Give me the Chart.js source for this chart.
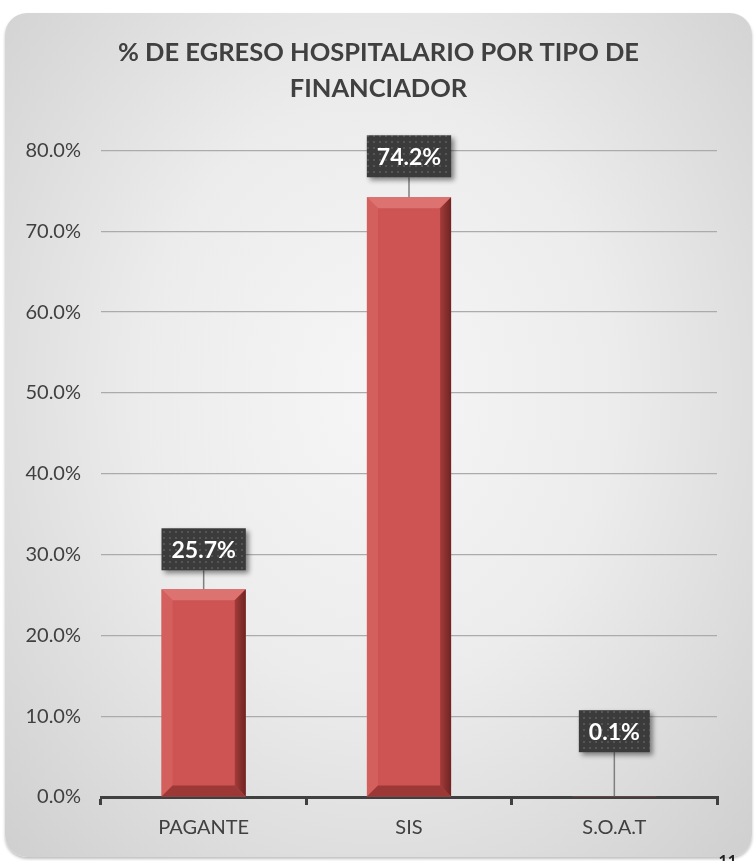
<!DOCTYPE html>
<html>
<head>
<meta charset="utf-8">
<script src="https://cdn.jsdelivr.net/npm/chart.js@4.4.1/dist/chart.umd.min.js"></script>
<style>
  html, body { margin: 0; padding: 0; background: #fff; }
  body { width: 755px; height: 861px; position: relative; overflow: hidden; font-family: Lato, "Open Sans", sans-serif; }
  #frame {
    position: absolute; left: 5px; top: 13px; width: 747px; height: 844px;
    border-radius: 22px;
    background: radial-gradient(ellipse at 50% 45%, #f6f6f6 0%, #ececec 45%, #cfcfcf 100%);
    box-shadow: 0 2px 3px rgba(0,0,0,0.25);
  }
  #page { position: absolute; right: 18px; bottom: -8px; font: bold 16px Lato, sans-serif; color: #222; }
</style>
</head>
<body>
<div id="frame"><canvas id="chart" width="747" height="844"></canvas></div>
<div id="page">11</div>
<script>
// data
const categories = ['PAGANTE', 'SIS', 'S.O.A.T'];
const percentValues = [25.7, 74.2, 0.1];
const yTicks = [0, 10, 20, 30, 40, 50, 60, 70, 80];

const textColor = '#404040';

// dotted dark fill used by the value boxes
function dotPattern(ctx) {
  const c = document.createElement('canvas');
  c.width = 6; c.height = 6;
  const p = c.getContext('2d');
  p.fillStyle = '#3b3b3b';
  p.fillRect(0, 0, 6, 6);
  p.fillStyle = '#555555';
  p.fillRect(2, 2, 2, 2);
  return ctx.createPattern(c, 'repeat');
}

// bevelled look of the bars
const bevelPlugin = {
  id: 'bevel',
  afterDatasetsDraw(chart) {
    const ctx = chart.ctx;
    chart.getDatasetMeta(0).data.forEach(bar => {
      const { x, y, base, width } = bar.getProps(['x', 'y', 'base', 'width'], true);
      const l = x - width / 2, r = x + width / 2;
      const h = base - y;
      const b = Math.min(11, h / 2, width / 2);
      if (h < 1) return;
      ctx.save();
      // top face
      ctx.fillStyle = '#dc7371';
      ctx.beginPath();
      ctx.moveTo(l, y); ctx.lineTo(r, y); ctx.lineTo(r - b, y + b); ctx.lineTo(l + b, y + b); ctx.closePath();
      ctx.fill();
      // left face
      ctx.fillStyle = '#d4605e';
      ctx.beginPath();
      ctx.moveTo(l, y); ctx.lineTo(l + b, y + b); ctx.lineTo(l + b, base - b); ctx.lineTo(l, base); ctx.closePath();
      ctx.fill();
      // right face
      const g = ctx.createLinearGradient(r - b, 0, r, 0);
      g.addColorStop(0, '#a33c3a');
      g.addColorStop(1, '#6e2422');
      ctx.fillStyle = g;
      ctx.beginPath();
      ctx.moveTo(r, y); ctx.lineTo(r, base); ctx.lineTo(r - b, base - b); ctx.lineTo(r - b, y + b); ctx.closePath();
      ctx.fill();
      // bottom face
      ctx.fillStyle = '#9c3836';
      ctx.beginPath();
      ctx.moveTo(l, base); ctx.lineTo(r, base); ctx.lineTo(r - b, base - b); ctx.lineTo(l + b, base - b); ctx.closePath();
      ctx.fill();
      ctx.restore();
    });
  }
};

// value boxes with leader lines
const valueBoxPlugin = {
  id: 'valueBoxes',
  afterDatasetsDraw(chart, args, opts) {
    const ctx = chart.ctx;
    const pattern = dotPattern(ctx);
    const ds = chart.data.datasets[0];
    chart.getDatasetMeta(0).data.forEach((bar, i) => {
      const text = ds.data[i].toFixed(1) + '%';
      ctx.save();
      ctx.font = 'bold 23px Lato, sans-serif';
      const w = ctx.measureText(text).width + 20;
      const hgt = 42;
      const cy = bar.y - opts.offsets[i];
      const cx = bar.x;
      // leader line
      ctx.strokeStyle = '#7f7f7f';
      ctx.lineWidth = 1.5;
      ctx.beginPath();
      ctx.moveTo(cx, cy + hgt / 2);
      ctx.lineTo(cx, bar.y);
      ctx.stroke();
      // box
      ctx.shadowColor = 'rgba(0,0,0,0.45)';
      ctx.shadowBlur = 5;
      ctx.shadowOffsetX = 3;
      ctx.shadowOffsetY = 3;
      ctx.fillStyle = pattern;
      ctx.fillRect(cx - w / 2, cy - hgt / 2, w, hgt);
      ctx.shadowColor = 'transparent';
      ctx.fillStyle = '#ffffff';
      ctx.textAlign = 'center';
      ctx.textBaseline = 'middle';
      ctx.fillText(text, cx, cy + 1);
      ctx.restore();
    });
  }
};

const ctx = document.getElementById('chart').getContext('2d');

new Chart(ctx, {
  type: 'bar',
  data: {
    labels: categories,
    datasets: [{
      data: percentValues,
      backgroundColor: '#cd5452',
      borderWidth: 0,
      barPercentage: 0.41,
      categoryPercentage: 1.0
    }]
  },
  options: {
    responsive: false,
    animation: false,
    layout: { padding: 0 },
    plugins: {
      legend: { display: false },
      tooltip: { enabled: false },
      title: {
        display: true,
        text: ['% DE EGRESO HOSPITALARIO POR TIPO DE', 'FINANCIADOR'],
        color: textColor,
        font: { family: 'Lato, sans-serif', size: 25.5, weight: 'bold', lineHeight: 1.4 },
        padding: { top: 22, bottom: 44 }
      },
      valueBoxes: { offsets: [40, 41, 65] }
    },
    scales: {
      x: {
        afterFit: s => { s.height = 60; },
        grid: {
          offset: true,
          drawOnChartArea: false,
          drawTicks: true,
          tickLength: 8,
          color: textColor,
          lineWidth: 3
        },
        border: { display: true, color: textColor, width: 3 },
        ticks: { color: textColor, padding: 11, font: { family: 'Lato, sans-serif', size: 20 } }
      },
      y: {
        min: 0,
        max: 80,
        afterFit: s => { s.width = 96; },
        afterBuildTicks: s => { s.ticks = yTicks.map(v => ({ value: v })); },
        grid: { color: '#ababab', lineWidth: 1.2, drawTicks: false },
        border: { display: false },
        ticks: {
          color: textColor,
          padding: 20,
          font: { family: 'Lato, sans-serif', size: 20 },
          callback: v => v.toFixed(1) + '%'
        }
      },
      // empty right-hand axis keeps the title centred on the frame
      yRight: {
        position: 'right',
        min: 0,
        max: 80,
        afterFit: s => { s.width = 35; },
        grid: { drawOnChartArea: false, drawTicks: false },
        border: { display: false },
        ticks: { display: false }
      }
    }
  },
  plugins: [bevelPlugin, valueBoxPlugin]
});
</script>
</body>
</html>
